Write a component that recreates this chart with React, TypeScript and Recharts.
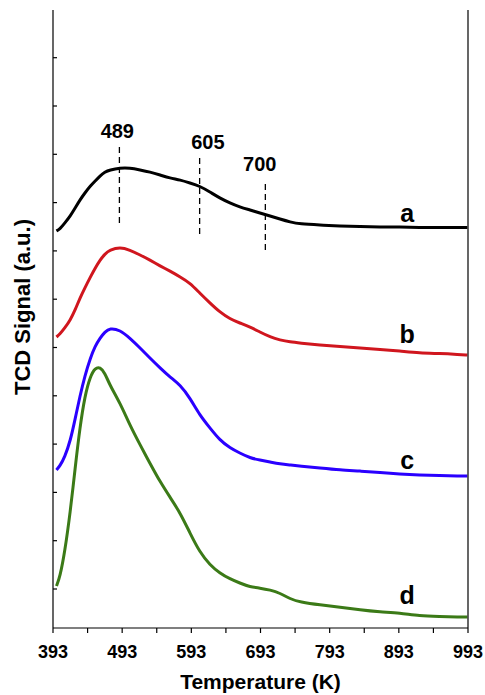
import { LineChart, Line, XAxis, YAxis, ReferenceLine, ReferenceDot } from "recharts";

// temperature (K) sample points
const temps = [
  398, 403, 410, 418, 425, 432, 439, 447, 454, 461, 468, 475, 490, 504, 519, 533,
  548, 562, 577, 591, 605, 620, 634, 649, 663, 678, 692, 707, 721, 736, 750, 779,
  808, 837, 866, 894, 923, 952, 980, 992,
];

// TCD signal (a.u., curves stacked with offsets as in the figure)
const sigA = [
  397, 399, 405, 412, 420, 428, 435, 442, 447, 452, 456, 458, 460, 460, 458, 456,
  453, 450, 448, 445, 442, 436, 430, 425, 421, 418, 415, 412, 409, 406, 404, 403,
  402, 401.5, 401, 401, 400.5, 400.5, 400.5, 400.5,
];
const sigB = [
  291, 294, 300, 308, 318, 330, 340, 351, 360, 368, 374, 378, 381, 378, 373, 368,
  362, 357, 351, 345, 335, 325, 316, 309, 305, 301, 296, 291, 288, 286, 285, 283,
  281.5, 280, 278.5, 277, 275, 274.5, 273.5, 273,
];
const sigC = [
  158, 162, 171, 187, 209, 232, 252, 270, 282, 290, 296, 300, 298, 290, 280, 270,
  260, 251, 243, 230, 213, 200, 188, 180, 175, 170, 168, 166, 164, 163, 162, 160,
  158, 157, 155.5, 154, 153, 152.5, 152, 152,
];
const sigD = [
  42, 51, 76, 116, 160, 201, 232, 252, 260, 261, 255, 243, 225, 203, 183, 165,
  146, 131, 115, 95, 76, 63, 55, 49, 45, 41, 40, 38, 35, 29, 26, 23,
  21, 18, 16, 15, 12, 11.5, 11, 11,
];

const xTicks = [393, 443, 493, 543, 593, 643, 693, 743, 793, 843, 893, 943, 993];
const leftTicks = [39, 87.3, 135.6, 183.9, 232.2, 280.5, 328.8, 377.1, 425.4, 473.7, 522, 570.3];
const rightTicks = [61, 123, 185, 246, 308, 369, 431, 493, 554];

const peaks = [
  { t: 489, label: "489", from: 405, to: 485, lx: 486, ly: 490 },
  { t: 605, label: "605", from: 394, to: 471, lx: 617, ly: 479 },
  { t: 700, label: "700", from: 378, to: 445, lx: 692, ly: 457 },
];

const curveLabels = [
  { name: "a", x: 905, y: 406 },
  { name: "b", x: 905, y: 285 },
  { name: "c", x: 905, y: 159 },
  { name: "d", x: 905, y: 24 },
];

const FONT = "'Liberation Sans', Arial, sans-serif";
const PLOT_LEFT = 53;

// left axis ticks point into the plot
function InnerTick(props: any) {
  return (
    <line x1={PLOT_LEFT} x2={PLOT_LEFT + 4} y1={props.y} y2={props.y} stroke="#000" strokeWidth={1.2} />
  );
}

export default function App() {
  const data = temps.map((t, i) => ({
    t,
    a: sigA[i],
    b: sigB[i],
    c: sigC[i],
    d: sigD[i],
  }));

  return (
    <div style={{ position: "absolute", left: 0, top: 0, background: "#fff" }}>
      <LineChart
        width={485}
        height={695}
        data={data}
        margin={{ top: 10, right: 0, left: 0, bottom: 0 }}
      >
        <XAxis
          dataKey="t"
          type="number"
          domain={[393, 993]}
          ticks={xTicks}
          interval={0}
          allowDataOverflow
          height={67}
          tickSize={5}
          tickMargin={12}
          stroke="#000"
          strokeWidth={1.2}
          tick={{ fill: "#000", fontSize: 18, fontWeight: "bold", fontFamily: FONT }}
          tickFormatter={(v) => ((v - 393) % 100 === 0 ? String(v) : "")}
          label={{
            value: "Temperature (K)",
            position: "insideBottom",
            offset: 6,
            style: { fill: "#000", fontSize: 21, fontWeight: "bold", fontFamily: FONT },
          }}
        />
        <XAxis
          xAxisId="top"
          orientation="top"
          type="number"
          domain={[393, 993]}
          height={0}
          tick={false}
          tickLine={false}
          stroke="#000"
          strokeWidth={1.2}
        />
        <YAxis
          type="number"
          domain={[0, 618]}
          ticks={leftTicks}
          interval={0}
          allowDataOverflow
          width={PLOT_LEFT}
          tick={<InnerTick />}
          tickLine={false}
          stroke="#000"
          strokeWidth={1.2}
          label={{
            value: "TCD Signal (a.u.)",
            angle: -90,
            position: "insideLeft",
            offset: 22,
            dy: -12,
            style: {
              textAnchor: "middle",
              fill: "#000",
              fontSize: 22,
              fontWeight: "bold",
              fontFamily: FONT,
            },
          }}
        />
        <YAxis
          yAxisId="right"
          orientation="right"
          type="number"
          domain={[0, 618]}
          ticks={rightTicks}
          interval={0}
          width={17}
          tick={false}
          tickSize={4}
          stroke="#000"
          strokeWidth={1.2}
        />
        {peaks.map((p) => (
          <ReferenceLine
            key={p.label}
            segment={[
              { x: p.t, y: p.from },
              { x: p.t, y: p.to },
            ]}
            stroke="#000"
            strokeWidth={1.3}
            strokeDasharray="6 4"
          />
        ))}
        {peaks.map((p) => (
          <ReferenceDot
            key={"l" + p.label}
            x={p.lx}
            y={p.ly}
            r={0}
            shape={(props: any) => (
              <text
                x={props.cx}
                y={props.cy}
                textAnchor="middle"
                fontSize={20}
                fontWeight="bold"
                fontFamily={FONT}
                fill="#000"
              >
                {p.label}
              </text>
            )}
          />
        ))}
        {curveLabels.map((c) => (
          <ReferenceDot
            key={c.name}
            x={c.x}
            y={c.y}
            r={0}
            shape={(props: any) => (
              <text
                x={props.cx}
                y={props.cy}
                textAnchor="middle"
                fontSize={25}
                fontWeight="bold"
                fontFamily={FONT}
                fill="#000"
              >
                {c.name}
              </text>
            )}
          />
        ))}
        <Line type="basis" dataKey="a" stroke="#000000" strokeWidth={3} dot={false} isAnimationActive={false} />
        <Line type="basis" dataKey="b" stroke="#d0161e" strokeWidth={3} dot={false} isAnimationActive={false} />
        <Line type="basis" dataKey="c" stroke="#2a00ff" strokeWidth={3} dot={false} isAnimationActive={false} />
        <Line type="basis" dataKey="d" stroke="#3b7a17" strokeWidth={3} dot={false} isAnimationActive={false} />
      </LineChart>
    </div>
  );
}
